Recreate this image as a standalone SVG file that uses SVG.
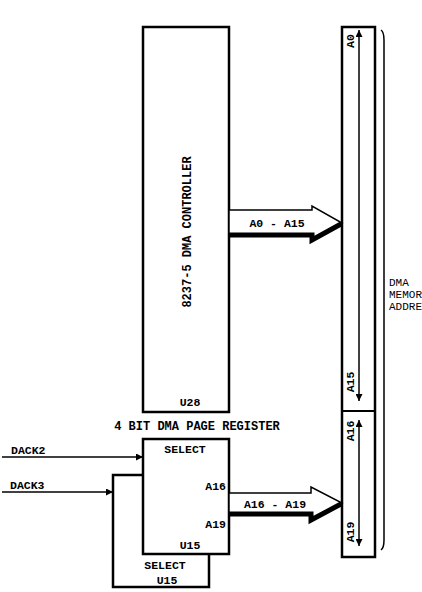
<svg xmlns="http://www.w3.org/2000/svg" width="422" height="592" viewBox="0 0 422 592">
<defs>
<style>
.box{fill:#fff;stroke:#000;stroke-width:2.5}
.t{font-family:"Liberation Mono","DejaVu Sans Mono",monospace;font-weight:bold;font-size:11.5px;fill:#000}
.tn{font-family:"Liberation Mono","DejaVu Sans Mono",monospace;font-size:11px;fill:#000}
.big{font-size:12px}
.ln{fill:none;stroke:#000;stroke-width:1.5}
.bus{fill:#fff;stroke:#000;stroke-width:1.5;stroke-linejoin:miter}
.shadow{fill:none;stroke:#000;stroke-width:5;stroke-linejoin:miter}
</style>
<marker id="ah" viewBox="0 0 10 10" refX="10" refY="5" markerWidth="8" markerHeight="7" orient="auto" markerUnits="userSpaceOnUse">
<path d="M0,0 L10,5 L0,10 z" fill="#000"/>
</marker>
</defs>
<rect width="422" height="592" fill="#fff"/>

<g id="u28">
<rect class="box" x="143" y="27" width="86" height="385"/>
<text class="t big" transform="translate(191,232) rotate(-90)" text-anchor="middle">8237-5 DMA CONTROLLER</text>
<text class="t" x="190" y="406" text-anchor="middle">U28</text>
</g>

<g id="bus">
<rect class="box" x="342" y="27" width="33" height="530"/>
<line x1="342" y1="411" x2="375" y2="411" stroke="#000" stroke-width="2"/>
<text class="t" transform="translate(354,41) rotate(-90)" text-anchor="middle">A0</text>
<text class="t" transform="translate(354,382) rotate(-90)" text-anchor="middle">A15</text>
<text class="t" transform="translate(354,431) rotate(-90)" text-anchor="middle">A16</text>
<text class="t" transform="translate(354,532) rotate(-90)" text-anchor="middle">A19</text>
</g>

<g id="page-register">
<path class="ln" d="M143,475 H113 V587 H209 V554" style="stroke-width:2.5"/>
<text class="t" x="165" y="569" text-anchor="middle">SELECT</text>
<text class="t" x="167" y="584" text-anchor="middle">U15</text>
<rect class="box" x="143" y="439" width="86" height="115"/>
<text class="t" x="185" y="453" text-anchor="middle">SELECT</text>
<text class="t" x="226" y="490" text-anchor="end">A16</text>
<text class="t" x="226" y="528" text-anchor="end">A19</text>
<text class="t" x="190" y="549" text-anchor="middle">U15</text>
<text class="t big" x="197" y="430" text-anchor="middle">4 BIT DMA PAGE REGISTER</text>
</g>

<g id="label-dma">
<path class="ln" d="M381,30 Q384,32 384,40 V540 Q384,548 381,550"/>
<text class="tn" x="389" y="286">DMA</text>
<text class="tn" x="389" y="298">MEMOR</text>
<text class="tn" x="389" y="310">ADDRE</text>
</g>

<g id="connectors">
<line class="ln" x1="2" y1="457" x2="143" y2="457" marker-end="url(#ah)"/>
<text class="t" x="11" y="454">DACK2</text>
<line class="ln" x1="2" y1="492" x2="113" y2="492" marker-end="url(#ah)"/>
<text class="t" x="10" y="489">DACK3</text>

<path class="bus" d="M229,210 H312 V206 L342,223 L312,240 V235 H229 Z"/>
<path class="shadow" d="M229,235 H312 V240 L341,224"/>
<text class="t" x="277" y="227" text-anchor="middle">A0 - A15</text>

<path class="bus" d="M229,493 H311 V487 L342,503 L311,520 V514 H229 Z"/>
<path class="shadow" d="M229,514 H311 V520 L341,504"/>
<text class="t" x="275" y="508" text-anchor="middle">A16 - A19</text>

<line class="ln" x1="359" y1="40" x2="359" y2="30" marker-end="url(#ah)"/>
<line class="ln" x1="359" y1="40" x2="359" y2="401" marker-end="url(#ah)"/>
<line class="ln" x1="359" y1="430" x2="359" y2="420" marker-end="url(#ah)"/>
<line class="ln" x1="359" y1="430" x2="359" y2="546" marker-end="url(#ah)"/>
</g>
</svg>
